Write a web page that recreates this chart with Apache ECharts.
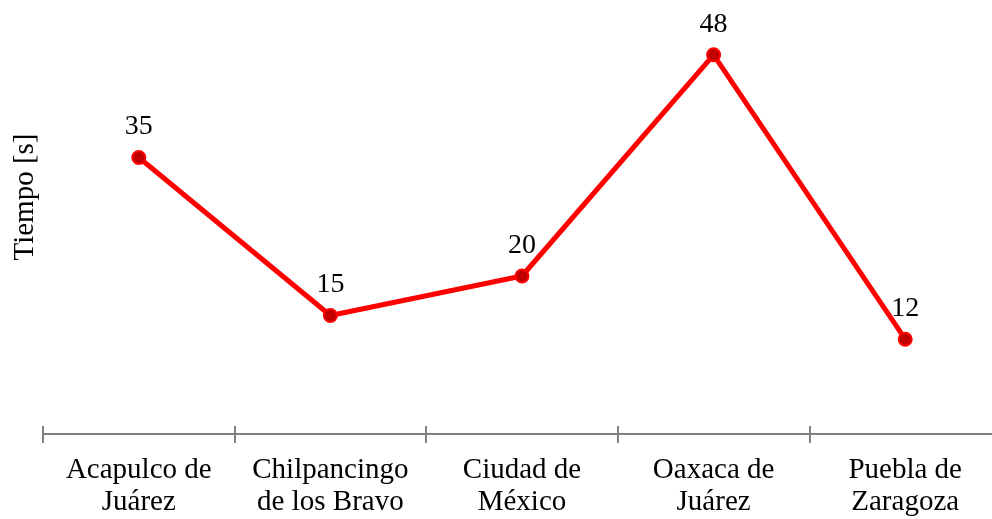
<!DOCTYPE html>
<html>
<head>
<meta charset="utf-8">
<script src="https://cdn.jsdelivr.net/npm/echarts@6/dist/echarts.min.js"></script>
<style>
html,body{margin:0;padding:0;background:#fff;}
#chart{width:992px;height:519px;}
</style>
</head>
<body>
<div id="chart"></div>
<script>
const categories = ["Acapulco de\nJuárez", "Chilpancingo\nde los Bravo", "Ciudad de\nMéxico", "Oaxaca de\nJuárez", "Puebla de\nZaragoza"];
const tiempo = [35, 15, 20, 48, 12];
const yName = "Tiempo [s]";

const font = "'Liberation Serif', 'Times New Roman', serif";
const axisColor = "#808080";

const chart = echarts.init(document.getElementById('chart'), null, {renderer: 'canvas'});
chart.setOption({
  backgroundColor: '#ffffff',
  animation: false,
  grid: {left: 43, top: -40, width: 958, height: 474, containLabel: false, outerBoundsMode: 'none'},
  xAxis: [{
    type: 'category',
    data: categories,
    position: 'bottom',
    boundaryGap: true,
    axisLine: {show: true, lineStyle: {color: axisColor, width: 2}},
    axisTick: {show: true, length: 9, lineStyle: {color: axisColor, width: 2}},
    axisLabel: {fontFamily: font, fontSize: 29, color: '#000', lineHeight: 32, margin: 20, interval: 0},
    splitLine: {show: false}
  }, {
    type: 'category',
    data: categories,
    position: 'bottom',
    boundaryGap: true,
    axisLine: {show: false},
    axisTick: {show: true, inside: true, length: 8, lineStyle: {color: axisColor, width: 2}},
    axisLabel: {show: false},
    splitLine: {show: false}
  }],
  yAxis: {
    type: 'value',
    min: 0,
    max: 60,
    axisLine: {show: false},
    axisTick: {show: false},
    axisLabel: {show: false},
    splitLine: {show: false},
    name: yName,
    nameLocation: 'middle',
    nameGap: 3,
    nameTextStyle: {fontFamily: font, fontSize: 29, color: '#000'}
  },
  series: [{
    type: 'line',
    data: tiempo,
    xAxisIndex: 0,
    symbol: 'circle',
    symbolSize: 13,
    lineStyle: {color: '#ff0000', width: 5},
    itemStyle: {color: '#c00000', borderColor: '#ff0000', borderWidth: 2},
    label: {show: true, position: 'top', distance: 9, fontFamily: font, fontSize: 28, color: '#000'}
  }]
});
</script>
</body>
</html>
